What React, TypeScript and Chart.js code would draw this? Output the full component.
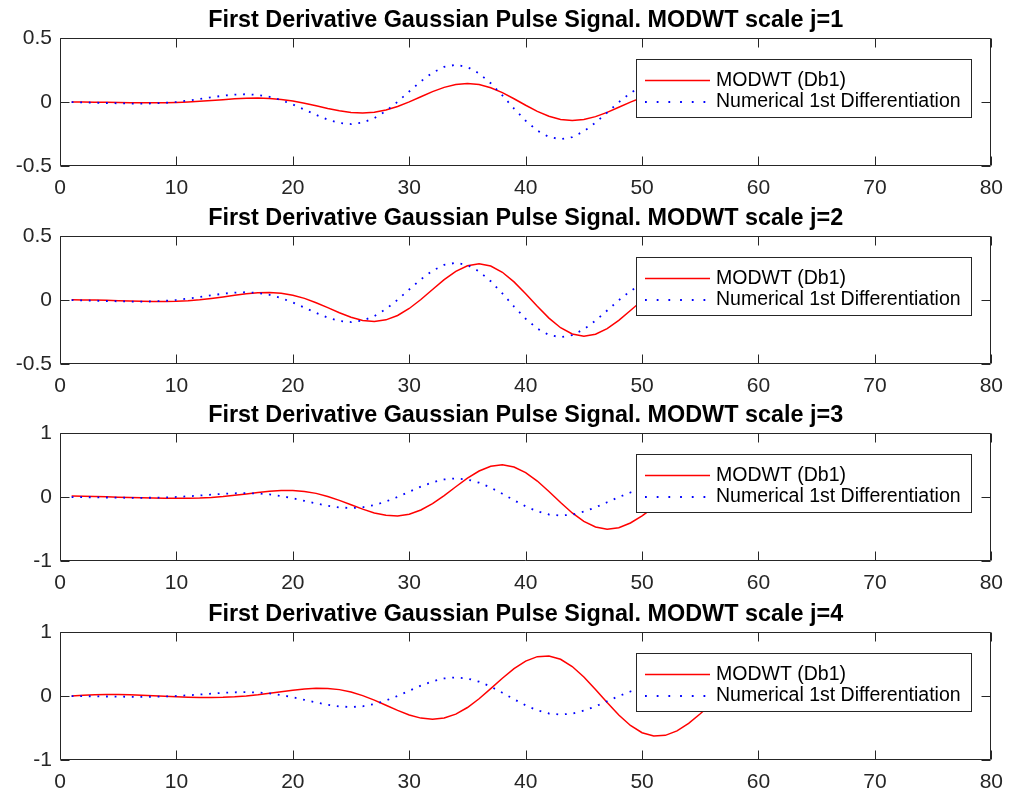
import React, { useEffect, useRef } from 'react';
import { Chart, registerables } from 'chart.js';

Chart.register(...registerables);

// Numerical first difference of the Gaussian pulse, one value per sample (n = 1..76)
const numericalDiff = [
  -0.0008, -0.0027, -0.0051, -0.0078, -0.0103, -0.0122, -0.0127, -0.0111, -0.0068, 0.0005,
  0.0107, 0.0232, 0.0366, 0.049, 0.0579, 0.0608, 0.0554, 0.0402, 0.0148, -0.0195,
  -0.0596, -0.101, -0.1378, -0.1635, -0.1726, -0.1607, -0.1262, -0.0705, 0.0016, 0.0823,
  0.1617, 0.229, 0.2744, 0.2905, 0.2733, 0.2234, 0.1463, 0.0509, -0.0509, -0.1463,
  -0.2234, -0.2733, -0.2905, -0.2744, -0.229, -0.1617, -0.0823, -0.0016, 0.0705, 0.1262,
  0.1607, 0.1726, 0.1635, 0.1378, 0.101, 0.0596, 0.0195, -0.0148, -0.0402, -0.0554,
  -0.0608, -0.0579, -0.049, -0.0366, -0.0232, -0.0107, -0.0005, 0.0068, 0.0111, 0.0127,
  0.0122, 0.0103, 0.0078, 0.0051, 0.0027, 0.0008,
];

// MODWT (Haar / Db1) wavelet coefficients, levels j = 1..4
const modwtJ1 = [
  0.0004, -0.0004, -0.0014, -0.0026, -0.0039, -0.0052, -0.0061, -0.0064, -0.0056, -0.0034,
  0.0003, 0.0054, 0.0116, 0.0183, 0.0245, 0.029, 0.0304, 0.0277, 0.0201, 0.0074,
  -0.0098, -0.0298, -0.0505, -0.0689, -0.0818, -0.0863, -0.0804, -0.0631, -0.0353, 0.0008,
  0.0412, 0.0809, 0.1145, 0.1372, 0.1453, 0.1367, 0.1117, 0.0732, 0.0255, -0.0255,
  -0.0732, -0.1117, -0.1367, -0.1453, -0.1372, -0.1145, -0.0809, -0.0412, -0.0008, 0.0353,
  0.0631, 0.0804, 0.0863, 0.0818, 0.0689, 0.0505, 0.0298, 0.0098, -0.0074, -0.0201,
  -0.0277, -0.0304, -0.029, -0.0245, -0.0183, -0.0116, -0.0054, -0.0003, 0.0034, 0.0056,
  0.0064, 0.0061, 0.0052, 0.0039, 0.0026, 0.0014,
];

const modwtJ2 = [
  0.0028, 0.0009, -0.0009, -0.0028, -0.0052, -0.0078, -0.0102, -0.0119, -0.0122, -0.0104,
  -0.0061, 0.0012, 0.0113, 0.0234, 0.0364, 0.0481, 0.0564, 0.0587, 0.053, 0.0377,
  0.0126, -0.021, -0.0599, -0.0999, -0.135, -0.1594, -0.1674, -0.1551, -0.1209, -0.0664,
  0.0038, 0.082, 0.1587, 0.2235, 0.2671, 0.2822, 0.2651, 0.2166, 0.1417, 0.0493,
  -0.0493, -0.1417, -0.2166, -0.2651, -0.2822, -0.2671, -0.2235, -0.1587, -0.082, -0.0038,
  0.0664, 0.1209, 0.1551, 0.1674, 0.1594, 0.135, 0.0999, 0.0599, 0.021, -0.0126,
  -0.0377, -0.053, -0.0587, -0.0564, -0.0481, -0.0364, -0.0234, -0.0113, -0.0012, 0.0061,
  0.0104, 0.0122, 0.0119, 0.0102, 0.0078, 0.0052,
];

const modwtJ3 = [
  0.0151, 0.0107, 0.0063, 0.0021, -0.0021, -0.0063, -0.0107, -0.0151, -0.0188, -0.0209,
  -0.0203, -0.0157, -0.0065, 0.0077, 0.0264, 0.0481, 0.0702, 0.0892, 0.1011, 0.1016,
  0.0874, 0.0565, 0.0091, -0.0521, -0.1212, -0.19, -0.2487, -0.2868, -0.2953, -0.2679,
  -0.2027, -0.1029, 0.0226, 0.1605, 0.2941, 0.4056, 0.479, 0.5022, 0.4695, 0.3823,
  0.2496, 0.0867, -0.0867, -0.2496, -0.3823, -0.4695, -0.5022, -0.479, -0.4056, -0.2941,
  -0.1605, -0.0226, 0.1029, 0.2027, 0.2679, 0.2953, 0.2868, 0.2487, 0.19, 0.1212,
  0.0521, -0.0091, -0.0565, -0.0874, -0.1016, -0.1011, -0.0892, -0.0702, -0.0481, -0.0264,
  -0.0077, 0.0065, 0.0157, 0.0203, 0.0209, 0.0188,
];

const modwtJ4 = [
  -0.0008, 0.0124, 0.0202, 0.0231, 0.0219, 0.0177, 0.0114, 0.0039, -0.0039, -0.0114,
  -0.0177, -0.0219, -0.0231, -0.0202, -0.0124, 0.0008, 0.0192, 0.0419, 0.0668, 0.091,
  0.1107, 0.1213, 0.1188, 0.0996, 0.062, 0.0061, -0.0647, -0.1446, -0.2251, -0.2957,
  -0.3455, -0.3643, -0.3446, -0.2827, -0.18, -0.0435, 0.1145, 0.2777, 0.4275, 0.5453,
  0.6151, 0.6259, 0.5732, 0.4603, 0.298, 0.1031, -0.1031, -0.298, -0.4603, -0.5732,
  -0.6259, -0.6151, -0.5453, -0.4275, -0.2777, -0.1145, 0.0435, 0.18, 0.2827, 0.3446,
  0.3643, 0.3455, 0.2957, 0.2251, 0.1446, 0.0647, -0.0061, -0.062, -0.0996, -0.1188,
  -0.1213, -0.1107, -0.091, -0.0668, -0.0419, -0.0192,
];

const scaleLevels = [1, 2, 3, 4];
const levelSeries = [modwtJ1, modwtJ2, modwtJ3, modwtJ4];
const xTicks = [0, 10, 20, 30, 40, 50, 60, 70, 80];
const yTicksHalf = [-0.5, 0, 0.5];
const yTicksOne = [-1, 0, 1];
const levelYTicks = [yTicksHalf, yTicksHalf, yTicksOne, yTicksOne];
const seriesLabels = ['MODWT (Db1)', 'Numerical 1st Differentiation'];
const titlePrefix = 'First Derivative Gaussian Pulse Signal. MODWT scale j=';

const FONT = "'Liberation Sans', Arial, Helvetica, sans-serif";
const AXIS_COLOR = '#262626';
const PANEL_W = 1013;
const PANEL_H = 198;
const panelTops = [0, 198, 395, 594];

// Draws the boxed axes with inward ticks, the title and the boxed legend
const figurePlugin = {
  id: 'figureDecor',
  afterDraw(chart: any, _args: any, opts: any) {
    const ctx = chart.ctx as CanvasRenderingContext2D;
    const a = chart.chartArea;
    const xs = chart.scales.x;
    const ys = chart.scales.y;
    const L = Math.round(a.left) + 0.5;
    const R = Math.round(a.right) - 0.5;
    const T = Math.round(a.top) + 0.5;
    const B = Math.round(a.bottom) - 0.5;
    const tickLen = 9;

    ctx.save();
    ctx.strokeStyle = AXIS_COLOR;
    ctx.lineWidth = 1;
    ctx.setLineDash([]);
    ctx.beginPath();
    ctx.rect(L, T, R - L, B - T);
    (opts.xTicks as number[]).forEach((v) => {
      const px = Math.round(xs.getPixelForValue(v)) + 0.5;
      ctx.moveTo(px, B);
      ctx.lineTo(px, B - tickLen);
      ctx.moveTo(px, T);
      ctx.lineTo(px, T + tickLen);
    });
    (opts.yTicks as number[]).forEach((v) => {
      const py = Math.round(ys.getPixelForValue(v)) + 0.5;
      ctx.moveTo(L, py);
      ctx.lineTo(L + tickLen, py);
      ctx.moveTo(R, py);
      ctx.lineTo(R - tickLen, py);
    });
    ctx.stroke();

    // title
    ctx.font = `bold 23.4px ${FONT}`;
    ctx.fillStyle = '#000';
    ctx.textAlign = 'center';
    ctx.textBaseline = 'alphabetic';
    ctx.fillText(opts.title, (a.left + a.right) / 2, a.top - 11);

    // legend (north-east, inside the axes)
    const lw = 335;
    const lh = 58;
    const lx = Math.round(a.right - 20 - lw);
    const ly = Math.round(a.top + 21);
    ctx.fillStyle = '#fff';
    ctx.fillRect(lx, ly, lw, lh);
    ctx.strokeStyle = AXIS_COLOR;
    ctx.lineWidth = 1;
    ctx.strokeRect(lx + 0.5, ly + 0.5, lw, lh);
    const rows = [21.5, 43];
    chart.data.datasets.forEach((ds: any, i: number) => {
      const cy = ly + rows[i];
      ctx.save();
      ctx.strokeStyle = ds.borderColor;
      ctx.lineWidth = ds.borderWidth;
      ctx.setLineDash(ds.borderDash ? [1.8, 9.9] : []);
      ctx.beginPath();
      ctx.moveTo(lx + 9, cy);
      ctx.lineTo(lx + 74, cy);
      ctx.stroke();
      ctx.restore();
      ctx.font = `19.5px ${FONT}`;
      ctx.fillStyle = '#000';
      ctx.textAlign = 'left';
      ctx.textBaseline = 'middle';
      ctx.fillText(ds.label, lx + 80, cy);
    });
    ctx.restore();
  },
};

function buildConfig(index: number): any {
  const level = scaleLevels[index];
  const yTicks = levelYTicks[index];
  const tickFont = { family: FONT, size: 21 };
  return {
    type: 'line',
    data: {
      datasets: [
        {
          label: seriesLabels[0],
          data: levelSeries[index].map((y, i) => ({ x: i + 1, y })),
          borderColor: '#ff0000',
          borderWidth: 1.5,
          pointRadius: 0,
          tension: 0,
          fill: false,
          order: 1,
        },
        {
          label: seriesLabels[1],
          data: numericalDiff.map((y, i) => ({ x: i + 1, y })),
          borderColor: '#0000ff',
          borderWidth: 1.8,
          borderDash: [1.8, 6.8],
          borderCapStyle: 'butt',
          pointRadius: 0,
          tension: 0,
          fill: false,
          order: 0,
        },
      ],
    },
    options: {
      animation: false,
      responsive: false,
      maintainAspectRatio: false,
      devicePixelRatio: 1,
      events: [],
      layout: { padding: { left: 8, right: 21, top: 38, bottom: 0 } },
      plugins: {
        legend: { display: false },
        title: { display: false },
        tooltip: { enabled: false },
        figureDecor: { title: `${titlePrefix}${level}`, xTicks, yTicks },
      },
      scales: {
        x: {
          type: 'linear',
          min: xTicks[0],
          max: xTicks[xTicks.length - 1],
          afterBuildTicks: (s: any) => {
            s.ticks = xTicks.map((value) => ({ value }));
          },
          afterFit: (s: any) => {
            s.height = 32;
          },
          grid: { display: false, drawTicks: false },
          border: { display: false },
          ticks: {
            padding: 10,
            font: tickFont,
            color: AXIS_COLOR,
            maxRotation: 0,
            minRotation: 0,
            autoSkip: false,
            callback: (v: any) => String(v),
          },
        },
        y: {
          type: 'linear',
          min: yTicks[0],
          max: yTicks[yTicks.length - 1],
          afterBuildTicks: (s: any) => {
            s.ticks = yTicks.map((value) => ({ value }));
          },
          afterFit: (s: any) => {
            s.width = 52;
          },
          grid: { display: false, drawTicks: false },
          border: { display: false },
          ticks: {
            padding: 8,
            font: tickFont,
            color: AXIS_COLOR,
            autoSkip: false,
            callback: (v: any) => String(v),
          },
        },
      },
    },
    plugins: [figurePlugin],
  };
}

export default function App() {
  const canvasRefs = useRef<(HTMLCanvasElement | null)[]>([]);

  useEffect(() => {
    const charts = scaleLevels.map((_, i) => new Chart(canvasRefs.current[i] as HTMLCanvasElement, buildConfig(i)));
    return () => {
      charts.forEach((c) => c.destroy());
    };
  }, []);

  return (
    <div
      style={{
        position: 'fixed',
        left: 0,
        top: 0,
        width: PANEL_W,
        height: 792,
        background: '#fff',
        overflow: 'hidden',
      }}
    >
      {scaleLevels.map((lvl, i) => (
        <canvas
          key={lvl}
          ref={(el) => {
            canvasRefs.current[i] = el;
          }}
          width={PANEL_W}
          height={PANEL_H}
          style={{ position: 'absolute', left: 0, top: panelTops[i], width: PANEL_W, height: PANEL_H, display: 'block' }}
        />
      ))}
    </div>
  );
}
